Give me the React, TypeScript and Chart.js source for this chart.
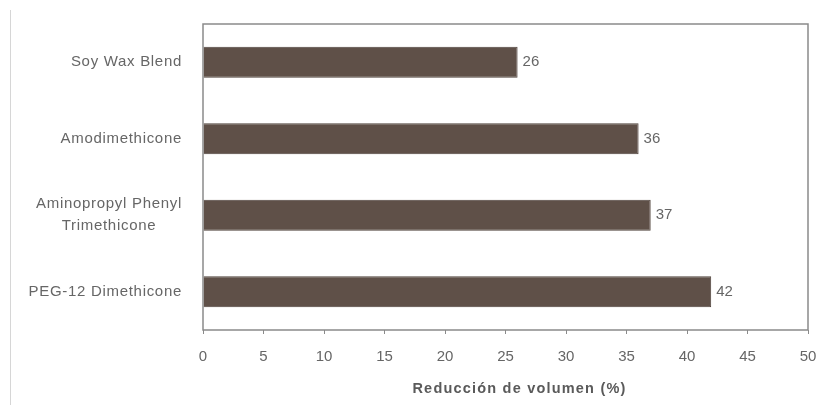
import React, { useEffect, useRef } from "react";
import { Chart, registerables } from "chart.js";

Chart.register(...registerables);

const categories: string[][] = [
  ["Soy Wax Blend"],
  ["Amodimethicone"],
  ["Aminopropyl Phenyl", "Trimethicone"],
  ["PEG-12 Dimethicone"],
];
const values: number[] = [26, 36, 37, 42];
const xTicks: number[] = [0, 5, 10, 15, 20, 25, 30, 35, 40, 45, 50];
const xTitle = "Reducción de volumen (%)";

const FONT = "'Liberation Sans', Arial, sans-serif";
const TEXT = "#666666";
const BAR = "#5f5048";
const AXIS = "#8a8a8a";

const decorPlugin = {
  id: "decor",
  afterDraw(chart: any) {
    const ctx = chart.ctx;
    const area = chart.chartArea;
    const yScale = chart.scales.y;
    ctx.save();
    // outer faint frame line (left)
    ctx.strokeStyle = "#d6d6d6";
    ctx.lineWidth = 1;
    ctx.beginPath();
    ctx.moveTo(10.5, 10);
    ctx.lineTo(10.5, 405);
    ctx.stroke();
    // plot frame
    ctx.strokeStyle = AXIS;
    ctx.lineWidth = 1.5;
    ctx.strokeRect(area.left, area.top, area.right - area.left, area.bottom - area.top);

    // y category labels
    ctx.fillStyle = TEXT;
    ctx.font = `15px ${FONT}`;
    (ctx as any).letterSpacing = "0.7px";
    ctx.textBaseline = "middle";
    const rightEdge = area.left - 21;
    const lineH = 22;
    categories.forEach((lines, i) => {
      const cy = yScale.getPixelForValue(i);
      if (lines.length === 1) {
        ctx.textAlign = "right";
        ctx.fillText(lines[0], rightEdge, cy);
      } else {
        const w = Math.max(...lines.map((l) => ctx.measureText(l).width));
        const cx = rightEdge - w / 2;
        ctx.textAlign = "center";
        lines.forEach((l, j) => {
          ctx.fillText(l, cx, cy + (j - (lines.length - 1) / 2) * lineH);
        });
      }
    });

    // x axis title
    ctx.font = `bold 14.5px ${FONT}`;
    (ctx as any).letterSpacing = "1.2px";
    ctx.fillStyle = "#5a5a5a";
    ctx.textAlign = "center";
    ctx.fillText(xTitle, (area.left + area.right) / 2 + 14, area.bottom + 59);
    ctx.restore();
  },
  afterDatasetsDraw(chart: any) {
    const ctx = chart.ctx;
    const meta = chart.getDatasetMeta(0);
    ctx.save();
    ctx.fillStyle = TEXT;
    ctx.font = `15px ${FONT}`;
    ctx.textAlign = "left";
    ctx.textBaseline = "middle";
    meta.data.forEach((bar: any, i: number) => {
      ctx.fillText(String(values[i]), bar.x + 5, bar.y);
    });
    ctx.restore();
  },
};

export default function App() {
  const ref = useRef<HTMLCanvasElement | null>(null);
  useEffect(() => {
    if (!ref.current) return;
    const chart = new Chart(ref.current, {
      type: "bar",
      data: {
        labels: categories.map((c) => c.join(" ")),
        datasets: [
          {
            data: values,
            backgroundColor: BAR,
            borderColor: "#4e423b",
            borderWidth: 1,
            barPercentage: 0.405,
            categoryPercentage: 1,
          },
        ],
      },
      options: {
        indexAxis: "y",
        animation: false,
        responsive: false,
        devicePixelRatio: 1,
        layout: { padding: { left: 203, right: 13, top: 24, bottom: 0 } },
        plugins: { legend: { display: false }, tooltip: { enabled: false } },
        scales: {
          y: {
            ticks: { display: false },
            grid: { display: false },
            border: { display: false },
            afterFit: (s: any) => {
              s.width = 0;
            },
          },
          x: {
            min: 0,
            max: 50,
            afterBuildTicks: (s: any) => {
              s.ticks = xTicks.map((v) => ({ value: v }));
            },
            ticks: {
              color: TEXT,
              font: { family: FONT, size: 15 },
              padding: 14,
              maxRotation: 0,
            },
            grid: {
              drawOnChartArea: false,
              drawTicks: true,
              tickLength: 4,
              color: AXIS,
            },
            border: { display: false },
            afterFit: (s: any) => {
              s.height = 80;
              s.paddingLeft = 0;
              s.paddingRight = 0;
            },
          },
        },
      },
      plugins: [decorPlugin],
    });
    return () => chart.destroy();
  }, []);
  return (
    <div style={{ position: "absolute", left: 0, top: 0, width: 821, height: 410, background: "#fff" }}>
      <canvas ref={ref} width={821} height={410} />
    </div>
  );
}
